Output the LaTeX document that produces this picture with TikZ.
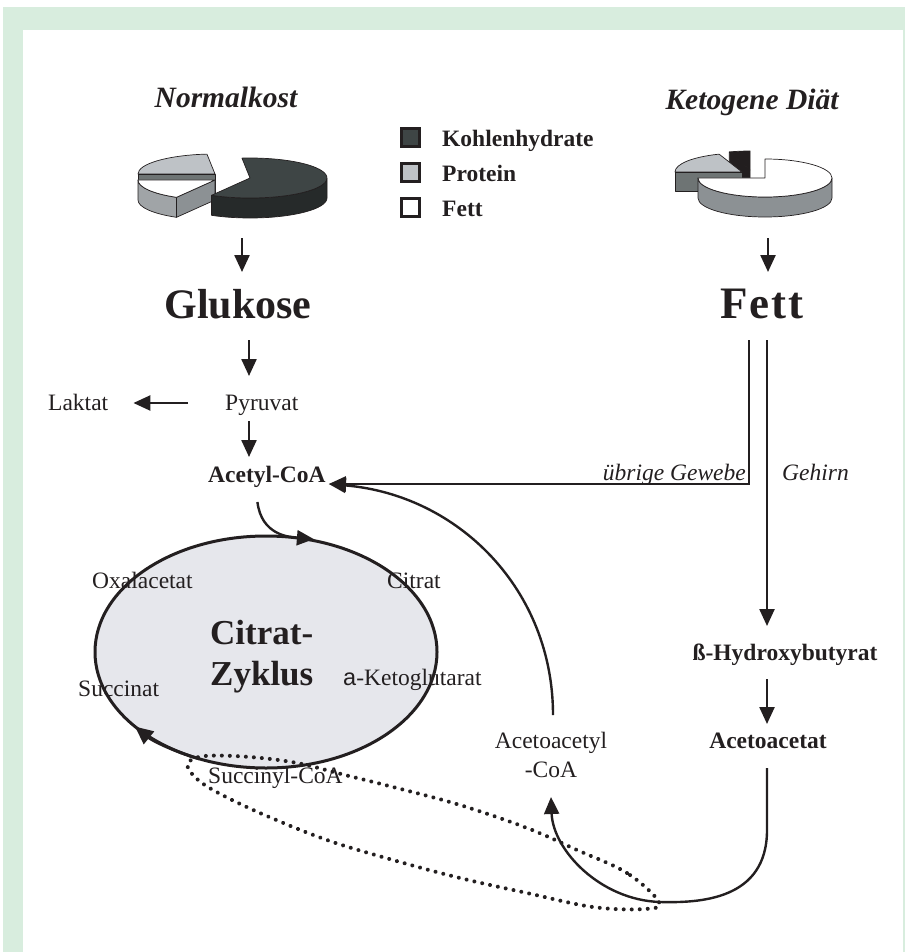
\documentclass[tikz,border=0pt]{standalone}
\usepackage{fontspec}
\setmainfont{Liberation Serif}
\newfontfamily\sansf{Liberation Sans}
\usetikzlibrary{arrows.meta,calc,shapes.geometric}
\definecolor{frameg}{RGB}{216,237,222}
\definecolor{txt}{RGB}{35,31,32}
\definecolor{ktop}{RGB}{62,69,69}
\definecolor{kside}{RGB}{38,42,42}
\definecolor{ptop}{RGB}{190,194,198}
\definecolor{pface}{RGB}{110,116,116}
\definecolor{fside}{RGB}{160,164,167}
\definecolor{fface}{RGB}{140,145,148}
\definecolor{blackc}{RGB}{34,30,31}
\definecolor{cycfill}{RGB}{230,231,236}
\begin{document}
\begin{tikzpicture}[x=1pt,y=-1pt,
  arr/.style={line width=2.4pt,draw=txt,-{Triangle[length=17pt,width=15pt]}},
  rl/.style={font=\fontsize{23.5}{28}\selectfont,inner sep=0pt,text=txt},
  bl/.style={font=\bfseries\fontsize{23.5}{28}\selectfont,inner sep=0pt,text=txt},
  il/.style={font=\itshape\fontsize{23.5}{28}\selectfont,inner sep=0pt,text=txt},
  ttl/.style={font=\bfseries\itshape\fontsize{29.5}{34}\selectfont,inner sep=0pt,text=txt},
  big/.style={font=\bfseries\fontsize{42}{48}\selectfont,inner sep=0pt,text=txt},
  cyct/.style={font=\bfseries\fontsize{35}{42}\selectfont,inner sep=0pt,text=txt},
  legbox/.style={draw=txt,line width=2.2pt,minimum size=18pt,inner sep=0pt},
  pc/.style={draw=txt,line width=0.7pt,line join=round},
  dotloop/.style={draw=txt,line width=4pt,line cap=round,dash pattern=on 0.01pt off 8pt}
]
\useasboundingbox (0,0) rectangle (905,952);
% frame
\fill[frameg] (3,7) rectangle (905,30);
\fill[frameg] (3,7) rectangle (23,952);
\fill[frameg] (903,7) rectangle (905,952);

% titles
\node[ttl,anchor=base] (normal) at (226,108) {Normalkost};
\node[ttl,anchor=base] (keto) at (752,110) {Ketogene Diät};

% ---- Normalkost pie
\filldraw[pc,fill=ptop] (215,174) -- ++(96:77pt and 20pt) arc[start angle=96,end angle=180,x radius=77pt,y radius=20pt] -- cycle;
\filldraw[pc,fill=pface] (215,174) -- ++(180:77pt and 20pt) -- ++(0,20) -- (215,194) -- cycle;
\filldraw[pc,fill=fside] ($(215,180)+(180:77pt and 20pt)$) arc[start angle=180,end angle=240,x radius=77pt,y radius=20pt] -- ++(0,20) arc[start angle=240,end angle=180,x radius=77pt,y radius=20pt] -- cycle;
\filldraw[pc,fill=fface] (215,180) -- ++(240:77pt and 20pt) -- ++(0,20) -- (215,200) -- cycle;
\filldraw[pc,fill=white] (215,180) -- ++(180:77pt and 20pt) arc[start angle=180,end angle=240,x radius=77pt,y radius=20pt] -- cycle;
\filldraw[pc,fill=kside] ($(250,178)+(240:77pt and 20pt)$) arc[start angle=240,end angle=360,x radius=77pt,y radius=20pt] -- ++(0,20) arc[start angle=360,end angle=240,x radius=77pt,y radius=20pt] -- cycle;
\filldraw[pc,fill=ktop] (250,178) -- ++(240:77pt and 20pt) arc[start angle=240,end angle=456,x radius=77pt,y radius=20pt] -- cycle;
\coordinate (pieN) at (242,238);

% ---- Ketogene pie
\filldraw[pc,fill=blackc] (750,170) -- ++(108:67pt and 19pt) -- ++(0,19) -- (750,189) -- cycle;
\filldraw[pc,fill=blackc] (750,170) -- ++(90:67pt and 19pt) arc[start angle=90,end angle=108,x radius=67pt,y radius=19pt] -- cycle;
\filldraw[pc,fill=pface] (742,172) -- ++(180:67pt and 19pt) -- ++(0,19) -- (742,191) -- cycle;
\filldraw[pc,fill=ptop] (742,172) -- ++(110:67pt and 19pt) arc[start angle=110,end angle=180,x radius=67pt,y radius=19pt] -- cycle;
\filldraw[pc,fill=fface] ($(765,178)+(180:67pt and 19pt)$) arc[start angle=180,end angle=360,x radius=67pt,y radius=19pt] -- ++(0,20) arc[start angle=360,end angle=180,x radius=67pt,y radius=19pt] -- cycle;
\filldraw[pc,fill=white] (765,178) -- ++(180:67pt and 19pt) arc[start angle=180,end angle=450,x radius=67pt,y radius=19pt] -- cycle;
\coordinate (pieK) at (768,238);

% ---- legend
\node[legbox,fill=ktop] (lk) at (410.5,137.5) {};
\node[legbox,fill=ptop] (lp) at (410.5,172.5) {};
\node[legbox,fill=white] (lf) at (410.5,207.5) {};
\node[bl,anchor=base west] (tk) at (442,147) {Kohlenhydrate};
\node[bl,anchor=base west] (tp) at (442,182) {Protein};
\node[bl,anchor=base west] (tf) at (442,216) {Fett};

% ---- main labels
\node[big,anchor=base] (glukose) at (238,318) {Glukose};
\node[big,anchor=base,font=\bfseries\fontsize{45}{50}\selectfont\addfontfeature{LetterSpace=4}] (fett) at (762,318) {Fett};
\node[rl,anchor=base west] (pyruvat) at (225,410) {Pyruvat};
\node[rl,anchor=base west] (laktat) at (48,410) {Laktat};
\node[bl,anchor=base west] (acetyl) at (208,482) {Acetyl-CoA};
\node[il,anchor=base east] (uebrig) at (746,480) {übrige Gewebe};
\node[il,anchor=base west] (gehirn) at (782,480) {Gehirn};
\node[bl,anchor=base] (hbut) at (785,660) {ß-Hydroxybutyrat};
\node[bl,anchor=base] (acac) at (768,748) {Acetoacetat};
\node[rl,anchor=base] (acoaA) at (551,748) {Acetoacetyl};
\node[rl,anchor=base] (acoaB) at (551,777) {-CoA};

\coordinate (colL) at (249,0);
\coordinate (colF1) at (749,0);
\coordinate (colF2) at (767,0);

% ---- citrate cycle
\node[ellipse,draw=txt,fill=cycfill,line width=3pt,minimum width=342pt,minimum height=232pt,inner sep=0pt] (zyk) at (266,652) {};
\draw[line width=3pt,draw=txt,-{Triangle[length=18pt,width=16pt]}] ($(zyk.center)+(247:171pt and 116pt)$) arc[start angle=247,end angle=220,x radius=171pt,y radius=116pt];

% dotted loop (Succinyl-CoA)
\draw[dotloop] plot[smooth cycle,tension=0.6] coordinates {(659,902) (627,873) (577,850) (527,828) (460,805) (393,787) (345,775) (297,763) (250,757) (205,756) (188,763) (193,775) (213,790) (260,813) (327,840) (393,860) (460,878) (527,893) (593,907) (645,909)};

\node[cyct,anchor=base west] (citr) at (210,644) {Citrat-};
\node[cyct,anchor=base west] (zykl) at (210,685) {Zyklus};
\node[rl,anchor=base west] (oxal) at (92,588) {Oxalacetat};
\node[rl,anchor=base west] (citrat) at (387,588) {Citrat};
\node[rl,anchor=base west] (akg) at (343,685) {{\sansf a}-Ketoglutarat};
\node[rl,anchor=base west] (succ) at (78,696) {Succinat};
\node[rl,anchor=base west] (succoa) at (208,783) {Succinyl-CoA};

% ---- arrows
\draw[arr] (pieN) -- ([yshift=46pt]glukose.base -| pieN);
\draw[arr] (pieK) -- ([yshift=46pt]fett.base -| pieK);
\draw[arr] ([yshift=-22pt]glukose.base -| colL) -- ([yshift=34pt]pyruvat.base -| colL);
\draw[arr] ([xshift=-37pt,yshift=7pt]pyruvat.base west) -- ([xshift=25pt,yshift=7pt]laktat.base east);
\draw[arr] ([yshift=-11pt]pyruvat.base -| colL) -- ([yshift=25pt]acetyl.base -| colL);
\coordinate (acin) at ([xshift=3pt,yshift=-2pt]acetyl.base east);
\draw[arr] ([yshift=-22pt]fett.base -| colF1) -- (colF1 |- acin) -- (acin);
\draw[arr] ([yshift=-22pt]fett.base -| colF2) -- ([yshift=34pt]hbut.base -| colF2);
\draw[arr] ([yshift=-19pt]hbut.base -| colF2) -- ([yshift=24pt]acac.base -| colF2);
\coordinate (bend) at (660,902);
\draw[arr] ([yshift=-20pt]acac.base -| colF2) -- ++(0,62) .. controls +(0,70) and +(40,1) .. (bend) .. controls +(-60,-2) and +(2,53) .. ([yshift=-20pt]acoaB.base);
\draw[arr] ([yshift=33pt,xshift=2pt]acoaA.base) .. controls +(0,-125) and +(130,11) .. (acin);
\draw[arr] ([xshift=-9.5pt,yshift=-20pt]acetyl.base) .. controls +(4,33) and +(-25,-2) .. (zyk.67);
\end{tikzpicture}
\end{document}
